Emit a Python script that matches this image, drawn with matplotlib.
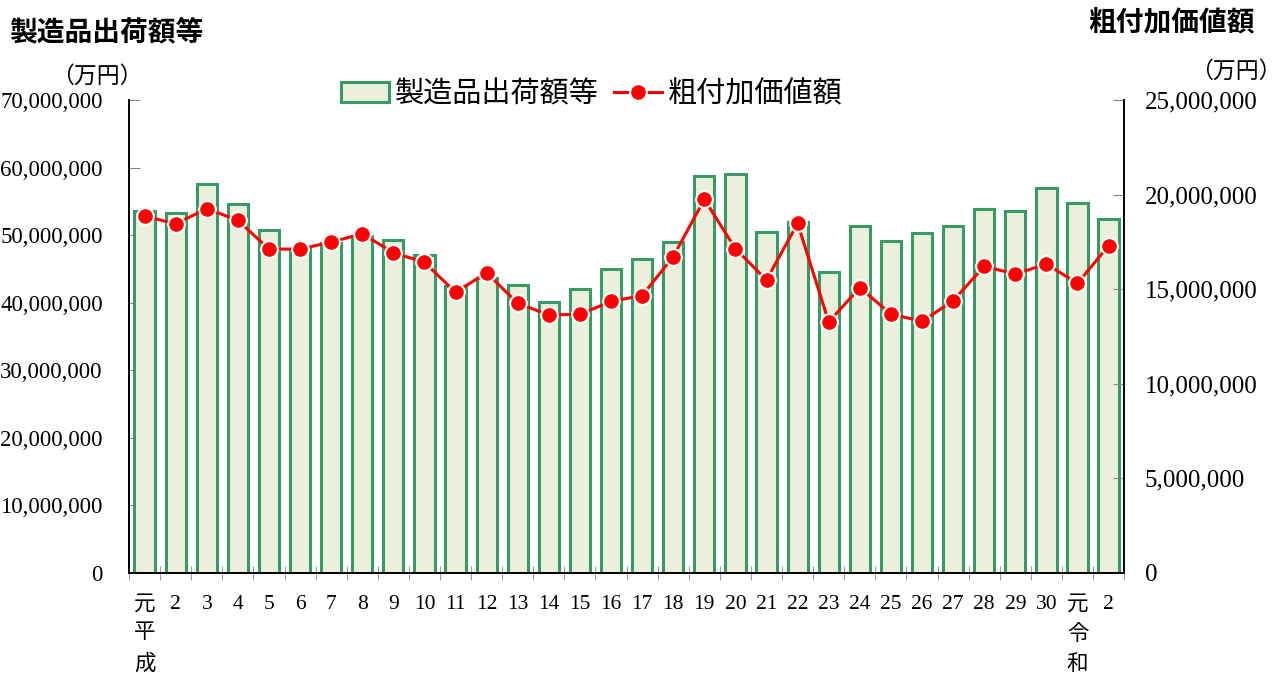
"""
製造品出荷額等 と 粗付加価値額 の推移（平成元年〜令和2年）
"""
import matplotlib
matplotlib.use("Agg")
import matplotlib.pyplot as plt
from matplotlib.ticker import FuncFormatter, FixedLocator

# データ（万円）
years = ["元\n平\n成"] + [str(i) for i in range(2, 31)] + ["元\n令\n和", "2"]

shipments = [
    53.6, 53.3, 57.6, 54.6, 50.8, 47.9, 48.9, 49.9, 49.3, 47.1,
    42.4, 43.6, 42.6, 40.1, 42.1, 45.0, 46.5, 49.0, 58.7, 59.0,
    50.5, 52.0, 44.6, 51.3, 49.2, 50.3, 51.4, 53.9, 53.5, 57.0,
    54.8, 52.4,
]
value_added = [
    18.87, 18.45, 19.26, 18.64, 17.12, 17.12, 17.49, 17.93, 16.93, 16.42,
    14.84, 15.87, 14.25, 13.64, 13.67, 14.36, 14.66, 16.72, 19.75, 17.14,
    15.49, 18.48, 13.27, 15.08, 13.69, 13.30, 14.39, 16.21, 15.80, 16.33,
    15.31, 17.30,
]
shipments = [v * 1_000_000 for v in shipments]
value_added = [v * 1_000_000 for v in value_added]

JP = ["Noto Sans CJK JP", "DejaVu Sans"]
NUM = ["Liberation Serif", "Noto Sans CJK JP"]

BAR_FACE = "#ebf0dd"
BAR_EDGE = "#3a9a66"
RED = "#ff0000"

fig = plt.figure(figsize=(12.84, 6.73), dpi=100)
ax = fig.add_axes([0.1005, 0.1486, 0.775, 0.7028])
ax2 = ax.twinx()

x = list(range(len(years)))
bars = ax.bar(x, shipments, width=0.65, color=BAR_FACE, edgecolor=BAR_EDGE,
              linewidth=2.2, label="製造品出荷額等", zorder=2)
line, = ax2.plot(x, value_added, color=RED, linewidth=2.2, marker="o",
                 markersize=12, markerfacecolor=RED, markeredgecolor="white",
                 markeredgewidth=1.5, label="粗付加価値額", zorder=3)

ax.set_xlim(-0.5, len(years) - 0.5)
ax.set_ylim(0, 70_000_000)
ax2.set_ylim(0, 25_000_000)

fmt = FuncFormatter(lambda v, p: f"{int(v):,}")
ax.set_yticks(range(0, 70_000_001, 10_000_000))
ax2.set_yticks(range(0, 25_000_001, 5_000_000))
ax.yaxis.set_major_formatter(fmt)
ax2.yaxis.set_major_formatter(fmt)

for a in (ax, ax2):
    a.spines["top"].set_visible(False)
    for s in a.spines.values():
        s.set_linewidth(1.2)
ax.tick_params(axis="y", direction="in", length=8, color="#888888",
               labelsize=16.5, pad=19)
ax2.tick_params(axis="y", direction="in", length=8, color="#888888",
                labelsize=18, pad=15)
for lab in ax.get_yticklabels() + ax2.get_yticklabels():
    lab.set_family(NUM)

# x 軸：カテゴリ境界に目盛り
ax.set_xticks(x)
ax.set_xticklabels(years, fontsize=15.5, family=NUM, linespacing=1.72,
                   va="top")
ax.tick_params(axis="x", length=0, pad=16)
ax.xaxis.set_minor_locator(FixedLocator([i - 0.5 for i in range(len(years) + 1)]))
ax.tick_params(axis="x", which="minor", direction="inout", length=10,
               color="#888888")

# タイトルと単位
fig.text(0.007, 0.952, "製造品出荷額等", fontsize=20, fontweight="bold",
         family=JP, ha="left", va="center")
fig.text(0.977, 0.965, "粗付加価値額", fontsize=20, fontweight="bold",
         family=JP, ha="right", va="center")
fig.text(0.111, 0.886, "（万円）", fontsize=16.5, family=NUM, ha="right",
         va="center")
fig.text(0.998, 0.893, "（万円）", fontsize=16.5, family=NUM, ha="right",
         va="center")

leg = fig.legend([bars, line], ["製造品出荷額等", "粗付加価値額"],
                 loc="center", bbox_to_anchor=(0.461, 0.86), ncol=2,
                 frameon=False, prop={"family": JP, "size": 21},
                 handlelength=1.65, handletextpad=0.2, columnspacing=0.5)

plt.savefig("out.png", dpi=100)
plt.close()
